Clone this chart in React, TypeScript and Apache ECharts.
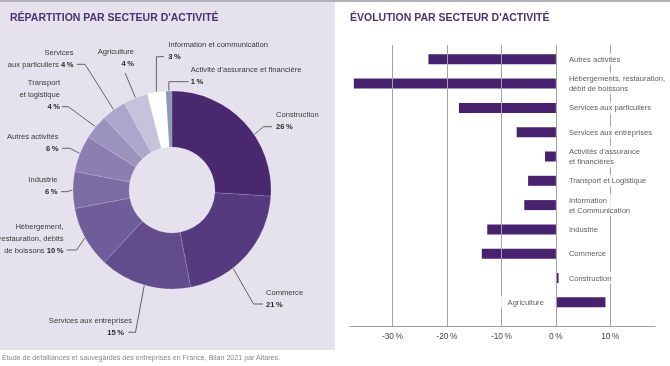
import React, { useEffect, useRef } from 'react';
import * as echarts from 'echarts';

const FONT = "'Liberation Sans Narrow', 'Liberation Sans', Arial, sans-serif";

// ---------- Left: répartition ----------
const pieNames = [
  'Construction', 'Commerce', 'Services aux entreprises',
  'Hébergement, restauration, débits de boissons', 'Industrie', 'Autres activités',
  'Transport et logistique', 'Services aux particuliers', 'Agriculture',
  'Information et communication', "Activité d'assurance et financière",
];
const pieLabelLines = [
  ['Construction'], ['Commerce'], ['Services aux entreprises'],
  ['Hébergement,', 'restauration, débits', 'de boissons'], ['Industrie'], ['Autres activités'],
  ['Transport', 'et logistique'], ['Services', 'aux particuliers'], ['Agriculture'],
  ['Information et communication'], ["Activité d'assurance et financière"],
];
const pieShares = [26, 21, 15, 10, 6, 6, 4, 4, 4, 3, 1];
const pctInline = [false, false, false, true, false, false, false, true, false, false, false];
const pieColors = [
  '#4a2870', '#563a80', '#624c8c', '#6e5d98', '#7c6ca4', '#8b7eb0',
  '#9c92be', '#aea6ca', '#c8c1db', '#ffffff', '#8c9ab5',
];

// ---------- Right: évolution ----------
const evoCategories = [
  'Autres activités', 'Hébergements, restauration,\ndébit de boissons', 'Services aux particuliers',
  'Services aux entreprises', "Activités d'assurance\net financières", 'Transport et Logistique',
  'Information\net Communication', 'Industrie', 'Commerce', 'Construction', 'Agriculture',
];
const evoValues = [-23.4, -37.1, -17.8, -7.2, -2.0, -5.1, -5.8, -12.6, -13.6, 0.5, 9.1];
const evoTicks = [-30, -20, -10, 0, 10];
const X_MIN = -37.8;
const X_MAX = 18.2;

// ---------- layout ----------
const PIE_CX = 172, PIE_CY = 190, PIE_R0 = 43, PIE_R = 99;
const LH = 12;
const FS = 7.6;
type LP = { x: number; y: number; align: 'left' | 'right'; elbow?: number[]; end: number[]; angle?: number; vertical?: boolean };
const pieLabelPos: LP[] = [
  { x: 276, y: 126.7, align: 'left', elbow: [263.5, 126.7], end: [272, 126.7], angle: 56 },
  { x: 266, y: 304, align: 'left', elbow: [253.5, 304], end: [263, 304], angle: 142 },
  { x: 132, y: 332.3, align: 'right', elbow: [135.5, 332.3], end: [128.5, 332.3] },
  { x: 63.5, y: 250, align: 'right', elbow: [76.7, 250], end: [66.5, 250] },
  { x: 57.5, y: 191.7, align: 'right', elbow: [67, 191.7], end: [61, 191.7] },
  { x: 58.5, y: 148.3, align: 'right', elbow: [70, 148.3], end: [62, 148.3] },
  { x: 60, y: 106.7, align: 'right', elbow: [68.3, 106.7], end: [62, 106.7] },
  { x: 73.5, y: 64.3, align: 'right', elbow: [85, 64.3], end: [77, 64.3] },
  { x: 134, y: 63.3, align: 'right', elbow: [125.5, 74], end: [125, 73] },
  { x: 168.3, y: 56.7, align: 'left', vertical: true, end: [164, 56.7] },
  { x: 190.7, y: 81.7, align: 'left', vertical: true, end: [188.5, 81.7] },
];
const pieTotal = pieShares.reduce((a, b) => a + b, 0);
function edgePoint(i: number) {
  let c = 0;
  for (let k = 0; k < i; k++) c += pieShares[k];
  const mid = ((c + pieShares[i] / 2) / pieTotal) * 360;
  const ang = pieLabelPos[i].angle ?? mid;
  const a = (ang * Math.PI) / 180;
  return [PIE_CX + (PIE_R + 0.5) * Math.sin(a), PIE_CY - (PIE_R + 0.5) * Math.cos(a)];
}

export default function App() {
  const ref = useRef<HTMLDivElement>(null);
  useEffect(() => {
    document.body.style.margin = '0';
    const chart = echarts.init(ref.current!, null, { renderer: 'svg' });
    const labelStyleBase = {
      show: true,
      formatter: (p: any) => evoCategories[p.dataIndex],
      color: '#333',
      fontSize: FS,
      fontFamily: FONT,
      lineHeight: 10,
      backgroundColor: '#fff',
      padding: [1, 3, 1, 8],
    };
    const option: any = {
      animation: false,
      textStyle: { fontFamily: FONT },
      graphic: [
        { type: 'rect', z: -10, silent: true, shape: { x: 0, y: 2, width: 335, height: 348 }, style: { fill: '#e5e1ed' } },
        { type: 'rect', z: -10, silent: true, shape: { x: 0, y: 0, width: 670, height: 2 }, style: { fill: '#b4b0be' } },
        {
          type: 'text', x: 10, y: 17, silent: true,
          style: { text: "RÉPARTITION PAR SECTEUR D'ACTIVITÉ", font: `bold 10.5px ${FONT}`, fill: '#4b3272', textVerticalAlign: 'middle' },
        },
        {
          type: 'text', x: 350, y: 17, silent: true,
          style: { text: "ÉVOLUTION PAR SECTEUR D'ACTIVITÉ", font: `bold 10.5px ${FONT}`, fill: '#4b3272', textVerticalAlign: 'middle' },
        },
        {
          type: 'text', x: 2, y: 357.5, silent: true,
          style: { text: 'Étude de défaillances et sauvegardes des entreprises en France, Bilan 2021 par Altares.', font: `7.1px ${FONT}`, fill: '#888', textVerticalAlign: 'middle' },
        },
      ],
      grid: [
        { left: 350, right: 15, top: 47.15, bottom: 51.55 },
        { left: 350, right: 15, top: 45, bottom: 40 },
      ],
      xAxis: [
        { gridIndex: 0, type: 'value', min: X_MIN, max: X_MAX, show: false },
        {
          gridIndex: 1, type: 'value', min: X_MIN, max: X_MAX,
          axisLine: { show: true, lineStyle: { color: '#9c9aa2', width: 1 } },
          axisTick: { show: false },
          splitLine: { show: false },
          axisLabel: {
            showMinLabel: false, showMaxLabel: false, margin: 6,
            color: '#444', fontSize: 8.3, fontFamily: FONT,
            formatter: (v: number) => (evoTicks.includes(v) ? `${v}\u2009%` : ''),
          },
        },
      ],
      yAxis: [
        { gridIndex: 0, type: 'category', data: evoCategories, inverse: true, show: false },
        { gridIndex: 1, type: 'value', min: 0, max: 1, show: false },
      ],
      series: [
        {
          type: 'pie',
          center: [PIE_CX, PIE_CY],
          radius: [PIE_R0, PIE_R],
          startAngle: 90,
          clockwise: true,
          avoidLabelOverlap: false,
          silent: true,
          itemStyle: { borderColor: 'rgba(255,255,255,0.22)', borderWidth: 0.6 },
          data: pieNames.map((n, i) => ({ name: n, value: pieShares[i], itemStyle: { color: pieColors[i] } })),
          label: {
            show: true,
            position: 'outside',
            formatter: (p: any) => {
              const i = p.dataIndex;
              const lines = pieLabelLines[i].map((l) => `{n|${l}}`);
              const pct = `{${i === 2 ? 'bp' : 'b'}|${pieShares[i]}\u2009%}`;
              if (pctInline[i]) lines[lines.length - 1] += `{n| }${pct}`;
              else lines.push(pct);
              return lines.join('\n');
            },
            rich: {
              n: { fontFamily: FONT, fontSize: FS, color: '#3a3a3a', lineHeight: LH },
              b: { fontFamily: FONT, fontSize: FS, fontWeight: 'bold', color: '#2a2a2a', lineHeight: LH },
              bp: { fontFamily: FONT, fontSize: FS, fontWeight: 'bold', color: '#2a2a2a', lineHeight: LH, padding: [0, 8, 0, 0] },
            },
          },
          labelLine: { show: true, length: 6, length2: 6, lineStyle: { color: '#555', width: 0.9 } },
          labelLayout: (params: any) => {
            const i = params.dataIndex;
            const p = pieLabelPos[i];
            const edge = edgePoint(i);
            const elbow = p.vertical ? [edge[0], p.y] : p.elbow!;
            return {
              x: p.x,
              y: p.y + LH / 2,
              align: p.align,
              verticalAlign: 'bottom',
              labelLinePoints: [edge, elbow, p.end],
            };
          },
        },
        {
          type: 'scatter', xAxisIndex: 1, yAxisIndex: 1, z: 1, silent: true,
          data: [[0, 0.5]], symbolSize: 0,
          markLine: {
            silent: true, symbol: ['none', 'none'], label: { show: false },
            lineStyle: { color: '#a3a1aa', width: 1, type: 'solid' },
            data: evoTicks.map((v) => ({ xAxis: v })),
          },
        },
        {
          type: 'bar', xAxisIndex: 0, yAxisIndex: 0, z: 3, silent: true,
          barWidth: 10,
          itemStyle: { color: '#46226f' },
          data: evoValues,
        },
        {
          type: 'scatter', xAxisIndex: 0, yAxisIndex: 0, z: 5, silent: true,
          symbolSize: 0,
          data: evoValues.map((v, i) => ({
            value: [0, i],
            label: v > 1
              ? { ...labelStyleBase, position: 'left', distance: 9, align: 'right' }
              : { ...labelStyleBase, position: 'right', distance: 5, align: 'left' },
          })),
          label: { ...labelStyleBase, position: 'right', distance: 5, align: 'left' },
        },
      ],
    };
    chart.setOption(option);
    return () => chart.dispose();
  }, []);
  return <div ref={ref} style={{ position: 'fixed', left: 0, top: 0, width: 670, height: 366 }} />;
}
